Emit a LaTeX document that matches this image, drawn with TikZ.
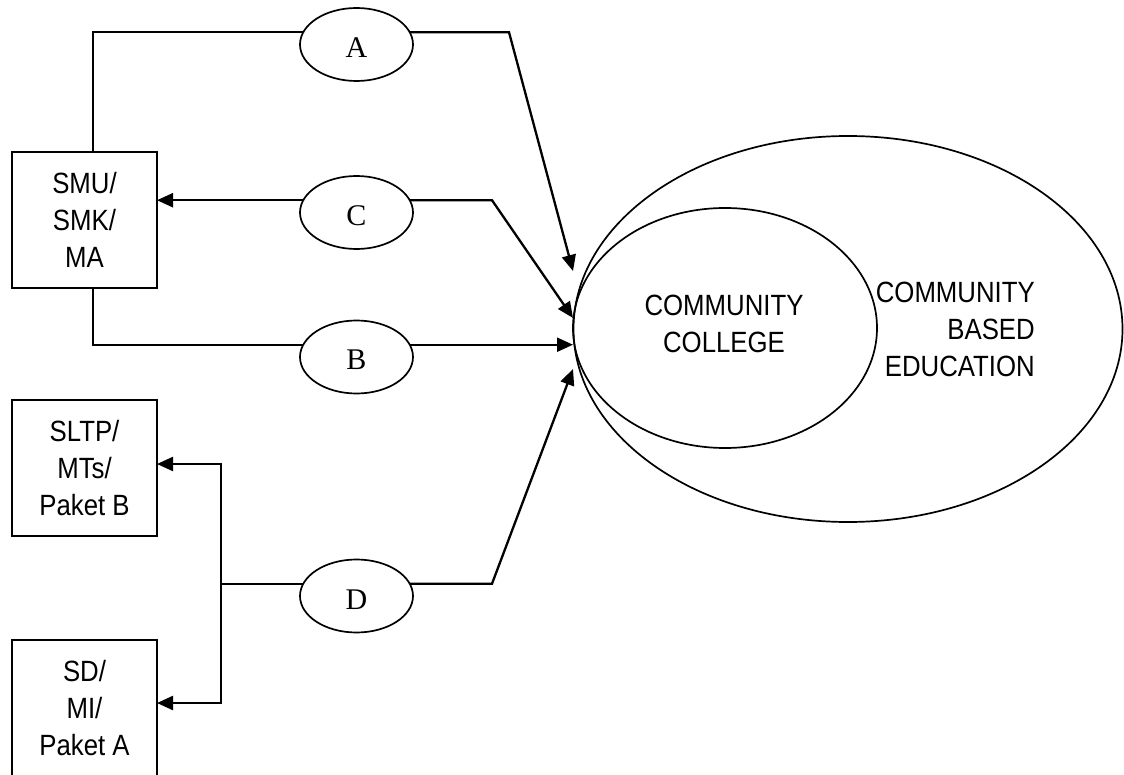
\documentclass[tikz,border=0pt]{standalone}
\usepackage{fontspec}
\newfontfamily\nsans[FakeStretch=0.88]{Liberation Sans}
\newfontfamily\tserif{Liberation Serif}
\usetikzlibrary{arrows.meta,shapes.geometric}
\begin{document}
\begin{tikzpicture}[x=1pt,y=-1pt,
  plain/.style={line width=1.7pt},
  arr/.style={line width=2.3pt,-{Triangle[length=16pt,width=14pt]}},
  box/.style={draw,line width=1.7pt,minimum width=145pt,minimum height=136pt,inner sep=0pt,outer sep=0pt,align=center,font=\nsans\fontsize{29.3}{37}\selectfont},
  oval/.style={draw,ellipse,line width=1.7pt,minimum width=113pt,minimum height=73pt,inner sep=0pt,outer sep=0pt,text height=26pt,text depth=0pt,font=\tserif\fontsize{30}{36}\selectfont},
  ring/.style={draw,ellipse,line width=1.7pt,inner sep=0pt,outer sep=0pt},
  lbl/.style={inner sep=0pt,font=\nsans\fontsize{29.3}{37}\selectfont}]
\useasboundingbox (0,0) rectangle (1124,775);
% boxes
\node[box] (smu) at (84.5,220) {SMU/\\SMK/\\MA};
\node[box] (sltp) at (84.5,468) {SLTP/\\MTs/\\Paket B};
\node[box] (sd) at (84.5,708) {SD/\\MI/\\Paket A};
% small ellipses
\node[oval] (A) at (356.5,44.5) {A};
\node[oval] (C) at (356.5,212.5) {C};
\node[oval] (B) at (356.5,357) {B};
\node[oval] (D) at (356.5,596) {D};
% large ellipses
\node[ring,minimum width=549pt,minimum height=386pt] (cbe) at (848,329) {};
\node[ring,minimum width=304pt,minimum height=240pt] (cc) at (725,328) {};
\node[lbl,anchor=north,align=center] (cctext) at (724,295) {COMMUNITY\\COLLEGE};
\node[lbl,anchor=north east,align=right] (cbetext) at (1035,282) {COMMUNITY\\BASED\\EDUCATION};
% helper coordinates
\coordinate (xa) at (93,0);
\coordinate (bA) at (509,0);
\coordinate (xc) at (492,0);
\coordinate (xd) at (221,0);
\coordinate (tA) at (573,271);
\coordinate (tC) at (573,318);
\coordinate (tB) at (573,0);
\coordinate (tD) at (573,369);
% connectors
\draw[plain] (smu.north -| xa) |- (A.167);
\draw[arr] (A.13) -- (A.13 -| bA) -- (tA);
\draw[arr] (C.167) -- (C.167 -| smu.east);
\draw[arr] (C.13) -- (C.13 -| xc) -- (tC);
\draw[plain] (smu.south -| xa) |- (B.167);
\draw[arr] (B.13) -- (B.13 -| tB);
\draw[plain] (D.167) -- (D.167 -| xd);
\draw[arr] (D.167 -| xd) |- ([yshift=4pt]sltp.east);
\draw[arr] (D.167 -| xd) |- ([yshift=5pt]sd.east);
\draw[arr] (D.13) -- (D.13 -| xc) -- (tD);
\end{tikzpicture}
\end{document}
